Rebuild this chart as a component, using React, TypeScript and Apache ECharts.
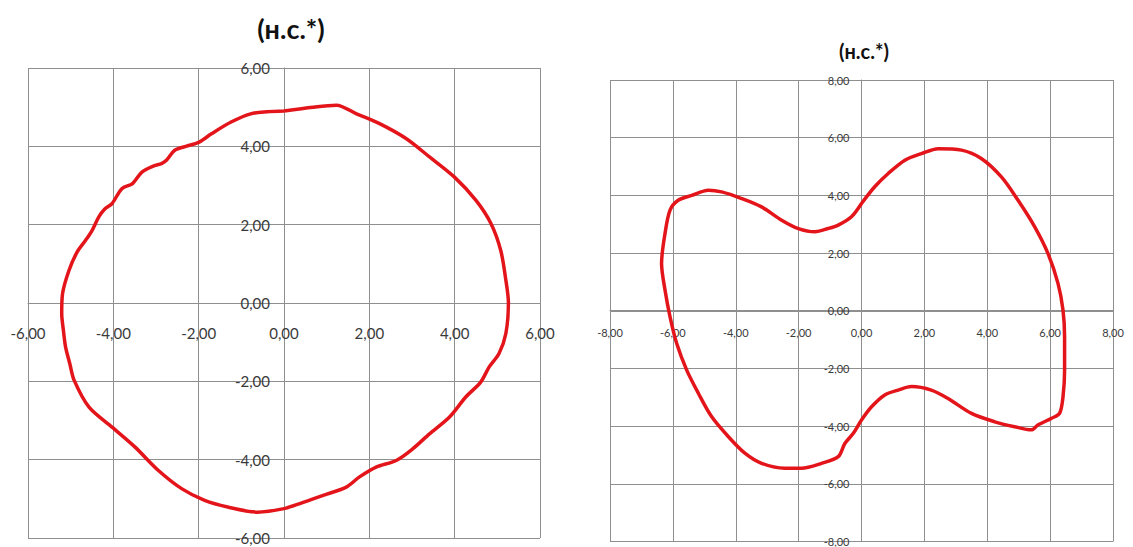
import React, { useEffect, useRef } from "react";
import * as echarts from "echarts";

// Left chart loop (н.с.*)
const leftX = [0, -0.4, -0.78, -1.24, -1.7, -2.0, -2.3, -2.56, -2.75, -2.87, -3.05, -3.33, -3.55, -3.8, -4.03, -4.2, -4.34, -4.5, -4.65, -4.85, -5.04, -5.19, -5.21, -5.17, -5.12, -5.02, -4.92, -4.57, -4.03, -3.49, -2.95, -2.4, -1.86, -1.32, -0.62, 0, 0.37, 0.92, 1.46, 1.77, 2.16, 2.63, 3.02, 3.41, 3.88, 4.26, 4.61, 4.81, 5.04, 5.2, 5.26, 5.2, 5.08, 4.85, 4.5, 3.99, 3.41, 2.86, 2.24, 1.7, 1.23, 0.68, 0];
const leftY = [4.9, 4.88, 4.83, 4.62, 4.32, 4.1, 4.0, 3.9, 3.65, 3.56, 3.5, 3.34, 3.05, 2.92, 2.54, 2.4, 2.2, 1.85, 1.6, 1.3, 0.83, 0.24, -0.27, -0.7, -1.12, -1.55, -1.97, -2.66, -3.17, -3.68, -4.27, -4.74, -5.04, -5.21, -5.34, -5.25, -5.12, -4.91, -4.7, -4.44, -4.19, -4.02, -3.72, -3.34, -2.91, -2.4, -2.02, -1.63, -1.29, -0.78, 0, 0.58, 1.34, 2.03, 2.62, 3.22, 3.73, 4.2, 4.58, 4.83, 5.05, 5.0, 4.9];

// Right chart loop (н.с.*)
const rightX = [0, 0.42, 0.85, 1.38, 1.91, 2.44, 3.18, 3.81, 4.45, 4.98, 5.51, 5.93, 6.25, 6.41, 6.46, 6.46, 6.41, 6.3, 6.04, 5.61, 5.4, 4.87, 4.24, 3.5, 2.75, 2.22, 1.59, 1.17, 0.74, 0.32, 0, -0.26, -0.53, -0.74, -1.27, -1.91, -2.44, -3.18, -3.71, -4.24, -4.77, -5.19, -5.56, -5.88, -6.09, -6.25, -6.36, -6.25, -6.09, -5.83, -5.4, -4.87, -4.45, -3.81, -3.18, -2.54, -2.01, -1.48, -1.06, -0.74, -0.32, 0];
const rightY = [3.72, 4.3, 4.76, 5.22, 5.45, 5.62, 5.57, 5.28, 4.64, 3.83, 2.91, 1.99, 0.95, 0.02, -0.9, -2.06, -2.98, -3.56, -3.73, -3.96, -4.13, -4.02, -3.85, -3.56, -3.04, -2.75, -2.63, -2.75, -2.92, -3.33, -3.79, -4.25, -4.6, -5.06, -5.29, -5.46, -5.46, -5.29, -4.94, -4.36, -3.67, -2.86, -2.06, -1.13, -0.21, 0.72, 1.64, 2.68, 3.49, 3.83, 4.0, 4.18, 4.12, 3.89, 3.6, 3.14, 2.85, 2.74, 2.85, 2.97, 3.26, 3.72];

const titles = ["(н.с.*)", "(н.с.*)"];
const leftRange = [-6, 6];
const rightRange = [-8, 8];

const fmt = (v: number) => v.toFixed(2).replace(".", ",");

const GRIDS = [
  { left: 28, top: 68, width: 512, height: 470 },
  { left: 610, top: 80, width: 503, height: 462 },
];

export default function App() {
  const ref = useRef<HTMLDivElement>(null);
  useEffect(() => {
    if (!ref.current) return;
    const chart = echarts.init(ref.current, null, { renderer: "svg" });
    const font = "Lato, 'Noto Sans', sans-serif";
    const grid = "#8f8f8f";
    const mkAxis = (gi: number, r: number[], fs: number, margin: number, offset: number, pos: string) => ({
      type: "value",
      gridIndex: gi,
      position: pos,
      offset,
      min: r[0],
      max: r[1],
      interval: 2,
      axisLine: { show: true, onZero: false, lineStyle: { color: grid, width: 1 } },
      axisTick: { show: true, length: 4, lineStyle: { color: grid } },
      axisLabel: { formatter: fmt, fontSize: fs, color: "#3a3a3a", fontFamily: font, margin },
      splitLine: { show: true, lineStyle: { color: grid, width: 1 } },
    });
    const zip = (xs: number[], ys: number[]) => xs.map((x, i) => [x, ys[i]]);
    chart.setOption({
      animation: false,
      backgroundColor: "#ffffff",
      title: [
        {
          text: titles[0],
          left: 286,
          top: 10,
          textAlign: "center",
          textStyle: { fontSize: 27, fontWeight: "bold", color: "#111", fontFamily: font },
        },
        {
          text: titles[1],
          left: 859,
          top: 36,
          textAlign: "center",
          textStyle: { fontSize: 20, fontWeight: "bold", color: "#111", fontFamily: font },
        },
      ],
      grid: GRIDS,
      xAxis: [
        mkAxis(0, leftRange, 15, 22, -GRIDS[0].height / 2, "bottom"),
        mkAxis(1, rightRange, 11, 16, -GRIDS[1].height / 2, "bottom"),
      ],
      yAxis: [
        mkAxis(0, leftRange, 15, 14, -GRIDS[0].width / 2, "left"),
        mkAxis(1, rightRange, 11, 12, -GRIDS[1].width / 2, "left"),
      ],
      series: [
        {
          type: "line",
          xAxisIndex: 0,
          yAxisIndex: 0,
          data: zip(leftX, leftY),
          showSymbol: false,
          smooth: 0.3,
          lineStyle: { color: "#e3151b", width: 3.5 },
        },
        {
          type: "line",
          xAxisIndex: 1,
          yAxisIndex: 1,
          data: zip(rightX, rightY),
          showSymbol: false,
          smooth: 0.3,
          lineStyle: { color: "#e3151b", width: 3.5 },
        },
      ],
    });
    return () => chart.dispose();
  }, []);
  return (
    <div
      ref={ref}
      style={{ position: "fixed", left: 0, top: 0, width: 1133, height: 547 }}
    />
  );
}
